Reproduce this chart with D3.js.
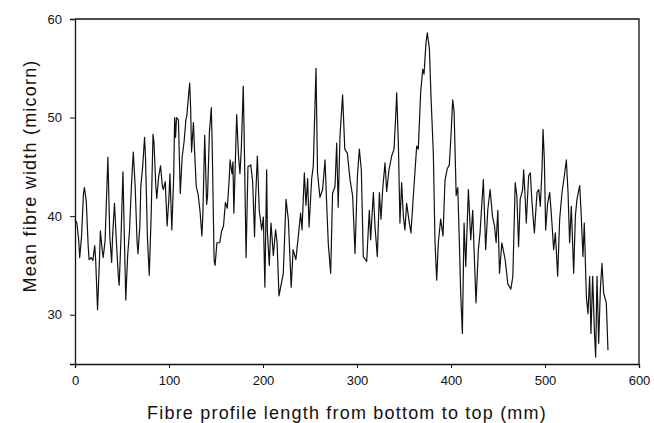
<!DOCTYPE html>
<html>
<head>
<meta charset="utf-8">
<script src="https://cdnjs.cloudflare.com/ajax/libs/d3/7.8.5/d3.min.js"></script>
<style>
  body { margin: 0; background: #fff; }
  text { font-family: "Liberation Sans", Arial, sans-serif; fill: #111; }
</style>
</head>
<body>
<svg id="chart"></svg>
<script>
// Fibre profile: position along fibre (mm) and mean width (micron)
const profileX = [
  0, 2, 4, 5, 7, 9, 10, 12, 14, 15, 17, 19, 21, 22, 24, 26, 27, 29, 30, 32,
  35, 37, 39, 40, 42, 44, 46, 47, 49, 51, 52, 54, 56, 58, 60, 62, 64, 66, 67, 69,
  70, 72, 74, 75, 77, 79, 81, 83, 84, 86, 87, 89, 91, 93, 94, 96, 98, 100, 101, 103,
  105, 106, 107, 108, 110, 112, 114, 116, 118, 119, 121, 122, 123, 124, 126, 127, 129, 131, 133, 135,
  136, 138, 140, 141, 143, 145, 146, 148, 149, 151, 154, 156, 158, 160, 162, 164, 165, 167, 168, 169,
  172, 174, 175.5, 177, 179, 180, 182, 184, 187, 189, 191, 192, 194, 196, 198.6, 200.4, 202, 203.9, 204.6, 206.7,
  208.5, 211, 213.4, 215, 217, 221.6, 224.5, 227, 230, 232, 235, 237.6, 240, 241.5, 244, 245.7, 247.5, 249, 251.8, 253.5,
  256.4, 258, 260.6, 263.4, 266, 267.8, 269.5, 272, 274, 276.6, 278.4, 280, 281.9, 284.7, 287, 289.7, 292.6, 295.4, 297.9, 300.4,
  302.5, 304.6, 306.7, 310.3, 313.1, 314.5, 317.4, 319.1, 321.6, 323.8, 325.5, 327.3, 329.8, 331.6, 334, 336.9, 339.4, 341.5, 342.2, 344,
  345.7, 347.5, 349.3, 351, 352.8, 355.7, 357.4, 359.9, 363.5, 365.2, 367.7, 369.9, 371.3, 373.4, 374.8, 377, 378.7, 381.2, 383, 384.8,
  386.5, 389, 391.5, 393.6, 396, 398.2, 400, 401.8, 403.3, 405.5, 407.2, 409, 410.3, 412.1, 413.9, 415.7, 418.5, 421, 423.1, 424.8,
  426.6, 429.1, 430.9, 434.4, 436.9, 439.1, 441.6, 444.1, 446.3, 448, 449.8, 451.6, 454.1, 457.6, 460.5, 463.7, 465.8, 468.3, 470.1, 471.9,
  473.6, 476.2, 477.3, 479, 480.1, 482.6, 484.4, 486.2, 488.7, 491.5, 493.3, 495, 496.8, 497.9, 499.3, 500.7, 502.8, 505, 507.4, 509.2,
  511, 513.5, 515.6, 518.1, 520.6, 522.7, 524.5, 526.2, 528, 530.5, 532.3, 534, 536.9, 538.3, 540.4, 541.8, 544, 545.7, 547.5, 548.9,
  550.7, 552.5, 553.9, 555.3, 557.1, 558.9, 560.6, 562.4, 565.2, 567
];
const fibreWidth = [
  39.7, 39.3, 37.5, 35.8, 38, 42.3, 42.9, 41.5, 37, 35.6, 35.8, 35.5, 37, 35.5, 30.5, 35.5, 38.5, 36.5, 35.8, 37.5,
  46, 38, 35.3, 38, 41.3, 37.5, 34, 33, 38, 44.5, 40, 31.5, 36, 38.5, 43, 46.5, 43, 37.5, 36.2, 39,
  43, 45, 48, 46, 38, 34, 40, 48.3, 47.5, 43, 41.8, 44, 45.1, 43, 42.7, 43.5, 39, 42, 44.3, 38.6,
  44, 50, 48, 50, 49.8, 42.3, 46, 47.5, 49.8, 50.2, 52.5, 53.5, 51, 46.5, 49.5, 47, 43, 42.2, 40.5, 38,
  40, 48.2, 41.2, 42, 48.5, 51, 47, 35.5, 35, 37.3, 37.3, 38.5, 39, 41.4, 40.8, 43.7, 45.7, 44.3, 45.5, 40.3,
  50.3, 46, 44.3, 47, 53.2, 48, 35.8, 45, 45.2, 43.5, 37.9, 41.5, 46.1, 40.6, 38.6, 39.9, 32.8, 44.7, 38.6, 35,
  39.3, 36, 38.6, 37.3, 31.9, 34.2, 41.7, 39.6, 32.8, 36.6, 35.6, 38, 40.3, 38.6, 44.4, 41.1, 43.8, 38.9, 43.8, 45.1,
  55, 44.4, 41.9, 42.7, 45.7, 41.1, 37.1, 34.2, 42.3, 43, 47.4, 40.9, 48.1, 52.3, 46.8, 46.4, 43.7, 42, 36.2, 44,
  46.8, 44.7, 35.9, 35.4, 40.6, 37.6, 42.4, 39, 35.9, 42.4, 39.7, 42.7, 45.4, 42.5, 44.7, 46.1, 46.8, 50.8, 52.5, 47.4,
  39.3, 43.4, 40, 38.6, 41.3, 39.3, 38.3, 42, 47.1, 46.8, 52.5, 54.9, 54.4, 57.6, 58.6, 57, 52.2, 46.4, 37.3, 33.5,
  37.3, 39.7, 38, 43.6, 44.8, 45.2, 48.2, 51.8, 50.6, 42.1, 42.9, 37, 32.2, 28.1, 39.3, 34.9, 42.7, 37.6, 40.6, 35.9,
  31.2, 36.6, 38.3, 43.7, 36.6, 40.6, 42.7, 40, 39, 37.3, 40.6, 34.2, 37.3, 35.6, 33.1, 32.6, 33.9, 43.4, 42, 36.9,
  41.7, 42.7, 44.7, 41.7, 39.3, 44.1, 44.4, 41.3, 38.3, 42.4, 42.7, 41, 44.7, 48.8, 45.7, 38.6, 41.3, 42.4, 39.3, 36.6,
  38.3, 33.9, 39.7, 42.4, 44.1, 45.7, 42.4, 37.3, 41, 34.2, 40, 41.7, 43.1, 40.6, 35.9, 39.3, 31.8, 30.1, 33.9, 28.1,
  33.9, 28.4, 25.7, 33.9, 27.1, 32.6, 35.2, 32.2, 31.2, 26.4
];
const xTicks = [0, 100, 200, 300, 400, 500, 600];
const yTicks = [30, 40, 50, 60];

const width = 654, height = 423;
const margin = { top: 19, right: 15, bottom: 59, left: 75 };

const svg = d3.select("#chart")
  .attr("width", width)
  .attr("height", height);

const x = d3.scaleLinear()
  .domain([0, 600])
  .range([margin.left, width - margin.right]);

const y = d3.scaleLinear()
  .domain([25, 60])
  .range([height - margin.bottom, margin.top]);

// frame (top and right edges)
svg.append("path")
  .attr("d", `M${x(0)},${y(60)}H${x(600)}V${y(25)}`)
  .attr("fill", "none")
  .attr("stroke", "#111")
  .attr("stroke-width", 1.3);

// x axis
const xAxis = svg.append("g")
  .attr("transform", `translate(0,${y(25)})`)
  .call(d3.axisBottom(x).tickValues(xTicks).tickSize(4).tickPadding(8));

// y axis
const yAxis = svg.append("g")
  .attr("transform", `translate(${x(0)},0)`)
  .call(d3.axisLeft(y).tickValues(yTicks).tickSize(5).tickPadding(8));

[xAxis, yAxis].forEach(g => {
  g.select(".domain").attr("stroke", "#111").attr("stroke-width", 1.3);
  g.selectAll(".tick line").attr("stroke", "#111");
  g.selectAll(".tick text")
    .attr("font-size", 13)
    .attr("font-family", "'Liberation Sans', Arial, sans-serif")
    .attr("fill", "#111");
});

// data line
const line = d3.line()
  .x((d, i) => x(profileX[i]))
  .y(d => y(d));

svg.append("path")
  .datum(fibreWidth)
  .attr("d", line)
  .attr("fill", "none")
  .attr("stroke", "#111")
  .attr("stroke-width", 1.2)
  .attr("stroke-linejoin", "round");

// axis titles
svg.append("text")
  .attr("x", 347)
  .attr("y", 419)
  .attr("text-anchor", "middle")
  .attr("font-size", 18)
  .attr("letter-spacing", 1.2)
  .text("Fibre profile length from bottom to top (mm)");

svg.append("text")
  .attr("transform", `translate(36,176) rotate(-90)`)
  .attr("text-anchor", "middle")
  .attr("font-size", 18)
  .attr("letter-spacing", 1.2)
  .text("Mean fibre width (micorn)");
</script>
</body>
</html>
